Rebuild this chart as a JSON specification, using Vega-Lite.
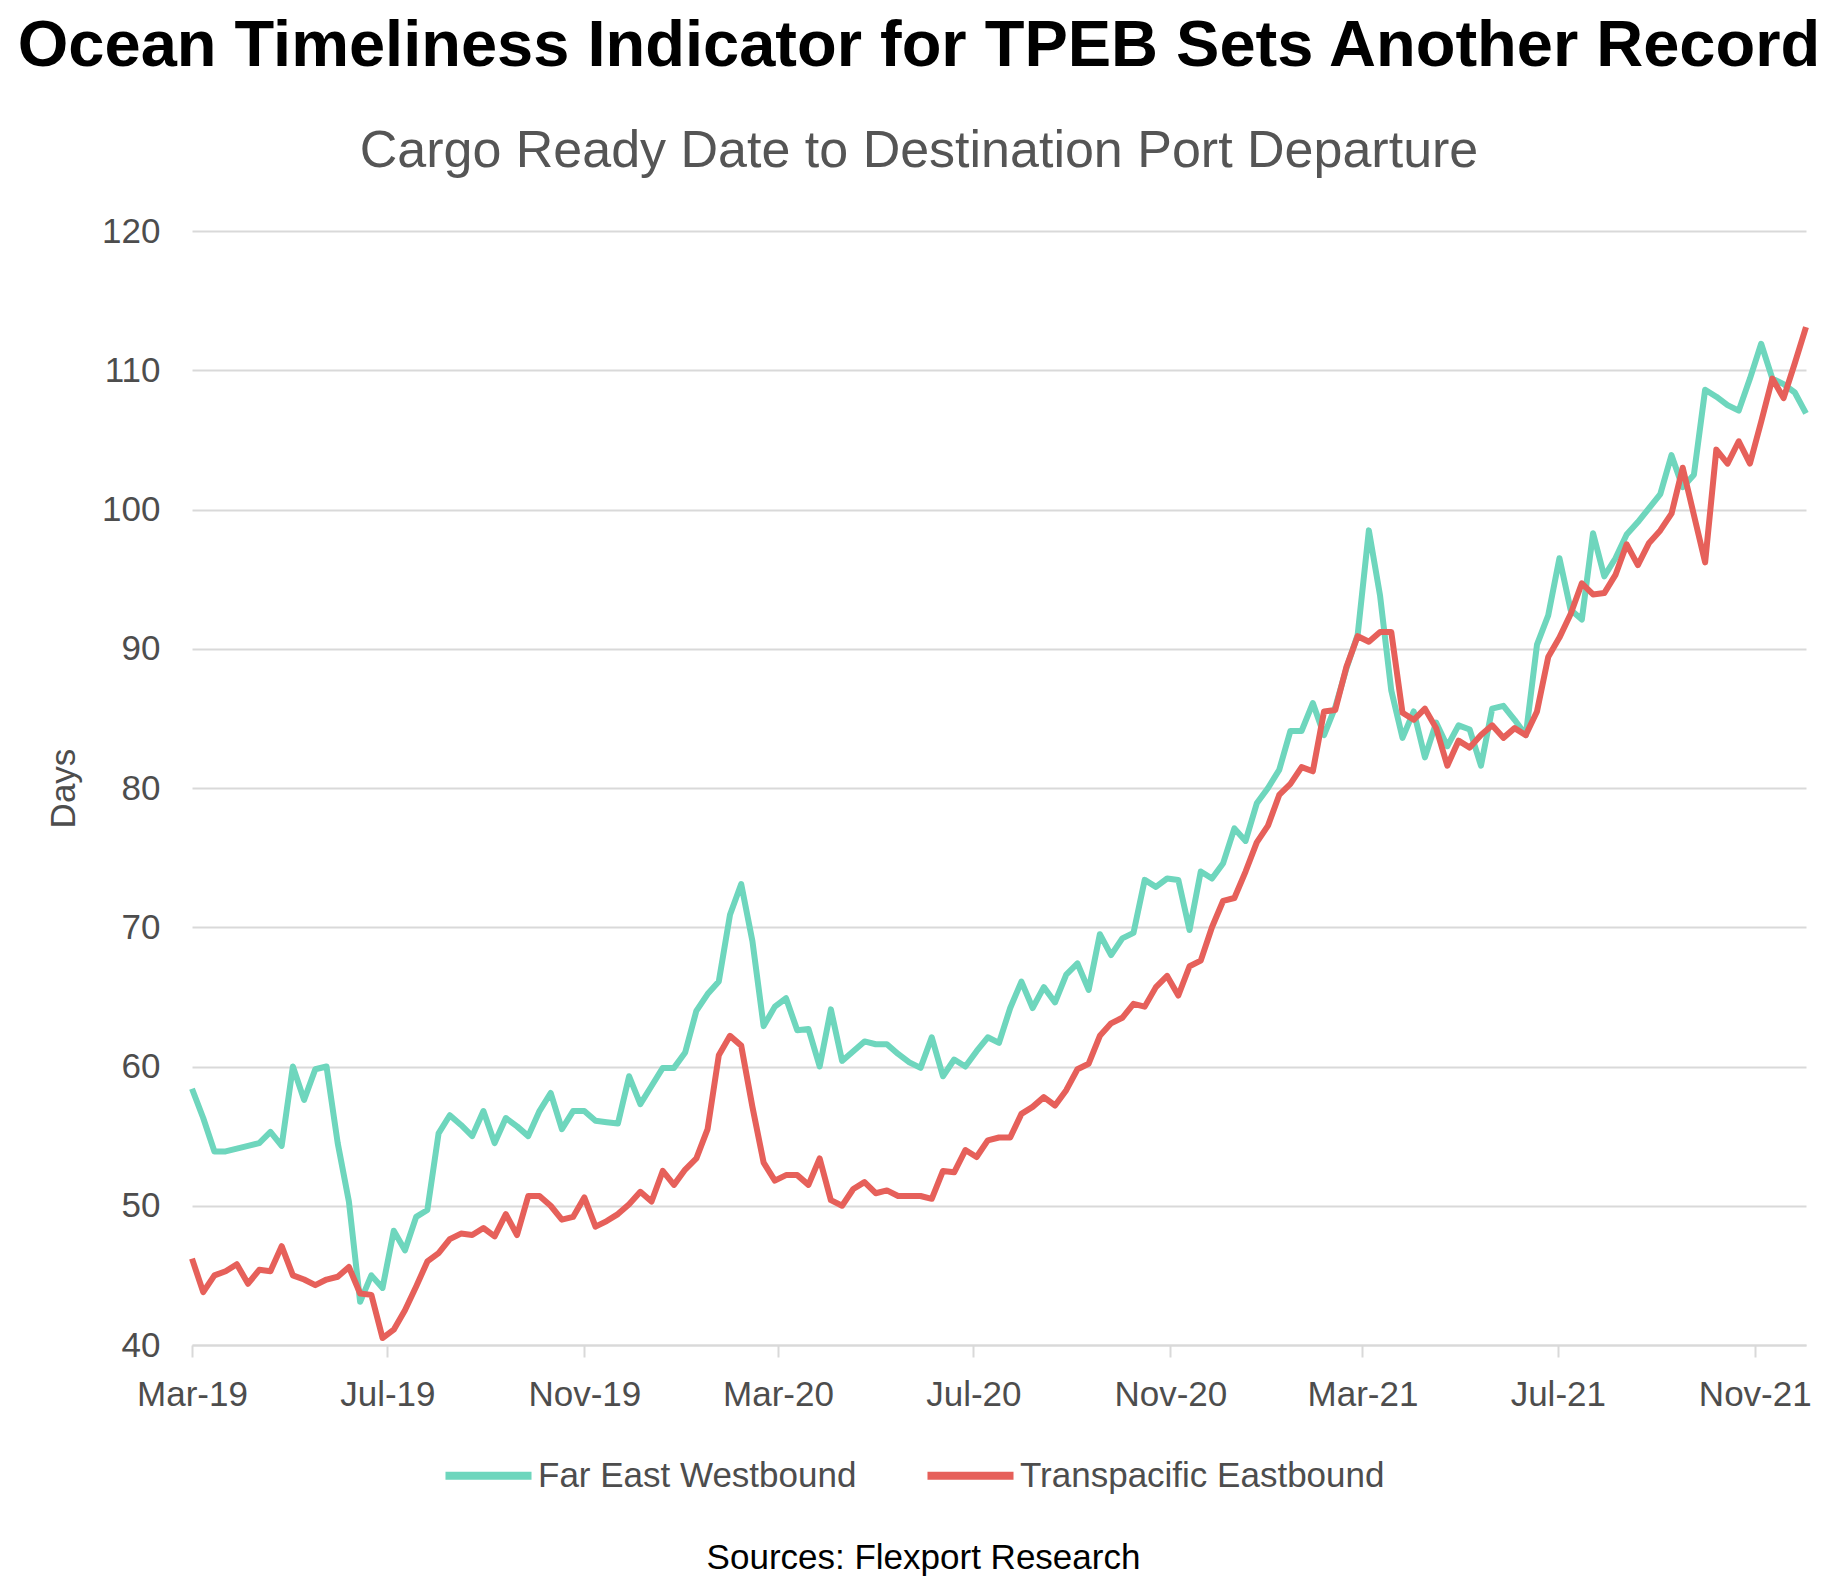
{
  "$schema": "https://vega.github.io/schema/vega-lite/v6.json",
  "width": 1614,
  "height": 1114,
  "autosize": {"type": "none"},
  "padding": {"left": 192, "top": 231, "right": 39, "bottom": 243},
  "background": "white",
  "config": {"font": "Liberation Sans", "view": {"stroke": null}},
  "title": {
    "text": "Ocean Timeliness Indicator for TPEB Sets Another Record",
    "subtitle": "Cargo Ready Date to Destination Port Departure",
    "anchor": "middle",
    "dx": -80,
    "fontSize": 65,
    "fontWeight": "bold",
    "color": "#000000",
    "subtitleFontSize": 52,
    "subtitleColor": "#555555",
    "subtitlePadding": 46,
    "offset": 36
  },
  "data": {
    "values": [
      {"date": "2019-03-01", "Far East Westbound": 58.4, "Transpacific Eastbound": 46.2},
      {"date": "2019-03-08", "Far East Westbound": 56.3, "Transpacific Eastbound": 43.8},
      {"date": "2019-03-15", "Far East Westbound": 53.9, "Transpacific Eastbound": 45.0},
      {"date": "2019-03-22", "Far East Westbound": 53.9, "Transpacific Eastbound": 45.3},
      {"date": "2019-03-29", "Far East Westbound": 54.1, "Transpacific Eastbound": 45.8},
      {"date": "2019-04-05", "Far East Westbound": 54.3, "Transpacific Eastbound": 44.4},
      {"date": "2019-04-12", "Far East Westbound": 54.5, "Transpacific Eastbound": 45.4},
      {"date": "2019-04-19", "Far East Westbound": 55.3, "Transpacific Eastbound": 45.3},
      {"date": "2019-04-26", "Far East Westbound": 54.3, "Transpacific Eastbound": 47.1},
      {"date": "2019-05-03", "Far East Westbound": 60.0, "Transpacific Eastbound": 45.0},
      {"date": "2019-05-10", "Far East Westbound": 57.6, "Transpacific Eastbound": 44.7},
      {"date": "2019-05-17", "Far East Westbound": 59.8, "Transpacific Eastbound": 44.3},
      {"date": "2019-05-24", "Far East Westbound": 60.0, "Transpacific Eastbound": 44.7},
      {"date": "2019-05-31", "Far East Westbound": 54.5, "Transpacific Eastbound": 44.9},
      {"date": "2019-06-07", "Far East Westbound": 50.3, "Transpacific Eastbound": 45.6},
      {"date": "2019-06-14", "Far East Westbound": 43.1, "Transpacific Eastbound": 43.7},
      {"date": "2019-06-21", "Far East Westbound": 45.0, "Transpacific Eastbound": 43.6},
      {"date": "2019-06-28", "Far East Westbound": 44.1, "Transpacific Eastbound": 40.5},
      {"date": "2019-07-05", "Far East Westbound": 48.2, "Transpacific Eastbound": 41.1},
      {"date": "2019-07-12", "Far East Westbound": 46.8, "Transpacific Eastbound": 42.5},
      {"date": "2019-07-19", "Far East Westbound": 49.2, "Transpacific Eastbound": 44.2},
      {"date": "2019-07-26", "Far East Westbound": 49.7, "Transpacific Eastbound": 46.0},
      {"date": "2019-08-02", "Far East Westbound": 55.2, "Transpacific Eastbound": 46.6},
      {"date": "2019-08-09", "Far East Westbound": 56.5, "Transpacific Eastbound": 47.6},
      {"date": "2019-08-16", "Far East Westbound": 55.8, "Transpacific Eastbound": 48.0},
      {"date": "2019-08-23", "Far East Westbound": 55.0, "Transpacific Eastbound": 47.9},
      {"date": "2019-08-30", "Far East Westbound": 56.8, "Transpacific Eastbound": 48.4},
      {"date": "2019-09-06", "Far East Westbound": 54.5, "Transpacific Eastbound": 47.8},
      {"date": "2019-09-13", "Far East Westbound": 56.3, "Transpacific Eastbound": 49.4},
      {"date": "2019-09-20", "Far East Westbound": 55.7, "Transpacific Eastbound": 47.9},
      {"date": "2019-09-27", "Far East Westbound": 55.0, "Transpacific Eastbound": 50.7},
      {"date": "2019-10-04", "Far East Westbound": 56.8, "Transpacific Eastbound": 50.7},
      {"date": "2019-10-11", "Far East Westbound": 58.1, "Transpacific Eastbound": 50.0},
      {"date": "2019-10-18", "Far East Westbound": 55.5, "Transpacific Eastbound": 49.0},
      {"date": "2019-10-25", "Far East Westbound": 56.8, "Transpacific Eastbound": 49.2},
      {"date": "2019-11-01", "Far East Westbound": 56.8, "Transpacific Eastbound": 50.6},
      {"date": "2019-11-08", "Far East Westbound": 56.1, "Transpacific Eastbound": 48.5},
      {"date": "2019-11-15", "Far East Westbound": 56.0, "Transpacific Eastbound": 48.9},
      {"date": "2019-11-22", "Far East Westbound": 55.9, "Transpacific Eastbound": 49.4},
      {"date": "2019-11-29", "Far East Westbound": 59.3, "Transpacific Eastbound": 50.1},
      {"date": "2019-12-06", "Far East Westbound": 57.3, "Transpacific Eastbound": 51.0},
      {"date": "2019-12-13", "Far East Westbound": 58.6, "Transpacific Eastbound": 50.3},
      {"date": "2019-12-20", "Far East Westbound": 59.9, "Transpacific Eastbound": 52.5},
      {"date": "2019-12-27", "Far East Westbound": 59.9, "Transpacific Eastbound": 51.5},
      {"date": "2020-01-03", "Far East Westbound": 61.0, "Transpacific Eastbound": 52.6},
      {"date": "2020-01-10", "Far East Westbound": 64.0, "Transpacific Eastbound": 53.4},
      {"date": "2020-01-17", "Far East Westbound": 65.2, "Transpacific Eastbound": 55.5},
      {"date": "2020-01-24", "Far East Westbound": 66.1, "Transpacific Eastbound": 60.8},
      {"date": "2020-01-31", "Far East Westbound": 70.9, "Transpacific Eastbound": 62.2},
      {"date": "2020-02-07", "Far East Westbound": 73.1, "Transpacific Eastbound": 61.5},
      {"date": "2020-02-14", "Far East Westbound": 69.0, "Transpacific Eastbound": 57.1},
      {"date": "2020-02-21", "Far East Westbound": 62.9, "Transpacific Eastbound": 53.1},
      {"date": "2020-02-28", "Far East Westbound": 64.3, "Transpacific Eastbound": 51.8},
      {"date": "2020-03-06", "Far East Westbound": 64.9, "Transpacific Eastbound": 52.2},
      {"date": "2020-03-13", "Far East Westbound": 62.6, "Transpacific Eastbound": 52.2},
      {"date": "2020-03-20", "Far East Westbound": 62.7, "Transpacific Eastbound": 51.5},
      {"date": "2020-03-27", "Far East Westbound": 60.0, "Transpacific Eastbound": 53.4},
      {"date": "2020-04-03", "Far East Westbound": 64.1, "Transpacific Eastbound": 50.4},
      {"date": "2020-04-10", "Far East Westbound": 60.4, "Transpacific Eastbound": 50.0},
      {"date": "2020-04-17", "Far East Westbound": 61.1, "Transpacific Eastbound": 51.2},
      {"date": "2020-04-24", "Far East Westbound": 61.8, "Transpacific Eastbound": 51.7},
      {"date": "2020-05-01", "Far East Westbound": 61.6, "Transpacific Eastbound": 50.9},
      {"date": "2020-05-08", "Far East Westbound": 61.6, "Transpacific Eastbound": 51.1},
      {"date": "2020-05-15", "Far East Westbound": 60.9, "Transpacific Eastbound": 50.7},
      {"date": "2020-05-22", "Far East Westbound": 60.3, "Transpacific Eastbound": 50.7},
      {"date": "2020-05-29", "Far East Westbound": 59.9, "Transpacific Eastbound": 50.7},
      {"date": "2020-06-05", "Far East Westbound": 62.1, "Transpacific Eastbound": 50.5},
      {"date": "2020-06-12", "Far East Westbound": 59.3, "Transpacific Eastbound": 52.5},
      {"date": "2020-06-19", "Far East Westbound": 60.5, "Transpacific Eastbound": 52.4},
      {"date": "2020-06-26", "Far East Westbound": 60.0, "Transpacific Eastbound": 54.0},
      {"date": "2020-07-03", "Far East Westbound": 61.1, "Transpacific Eastbound": 53.5},
      {"date": "2020-07-10", "Far East Westbound": 62.1, "Transpacific Eastbound": 54.7},
      {"date": "2020-07-17", "Far East Westbound": 61.7, "Transpacific Eastbound": 54.9},
      {"date": "2020-07-24", "Far East Westbound": 64.2, "Transpacific Eastbound": 54.9},
      {"date": "2020-07-31", "Far East Westbound": 66.1, "Transpacific Eastbound": 56.6},
      {"date": "2020-08-07", "Far East Westbound": 64.2, "Transpacific Eastbound": 57.1},
      {"date": "2020-08-14", "Far East Westbound": 65.7, "Transpacific Eastbound": 57.8},
      {"date": "2020-08-21", "Far East Westbound": 64.6, "Transpacific Eastbound": 57.2},
      {"date": "2020-08-28", "Far East Westbound": 66.6, "Transpacific Eastbound": 58.3},
      {"date": "2020-09-04", "Far East Westbound": 67.4, "Transpacific Eastbound": 59.8},
      {"date": "2020-09-11", "Far East Westbound": 65.5, "Transpacific Eastbound": 60.2},
      {"date": "2020-09-18", "Far East Westbound": 69.5, "Transpacific Eastbound": 62.2},
      {"date": "2020-09-25", "Far East Westbound": 68.0, "Transpacific Eastbound": 63.1},
      {"date": "2020-10-02", "Far East Westbound": 69.2, "Transpacific Eastbound": 63.5},
      {"date": "2020-10-09", "Far East Westbound": 69.6, "Transpacific Eastbound": 64.5},
      {"date": "2020-10-16", "Far East Westbound": 73.4, "Transpacific Eastbound": 64.3},
      {"date": "2020-10-23", "Far East Westbound": 72.9, "Transpacific Eastbound": 65.7},
      {"date": "2020-10-30", "Far East Westbound": 73.5, "Transpacific Eastbound": 66.5},
      {"date": "2020-11-06", "Far East Westbound": 73.4, "Transpacific Eastbound": 65.1},
      {"date": "2020-11-13", "Far East Westbound": 69.8, "Transpacific Eastbound": 67.2},
      {"date": "2020-11-20", "Far East Westbound": 74.0, "Transpacific Eastbound": 67.6},
      {"date": "2020-11-27", "Far East Westbound": 73.5, "Transpacific Eastbound": 70.0},
      {"date": "2020-12-04", "Far East Westbound": 74.6, "Transpacific Eastbound": 71.9},
      {"date": "2020-12-11", "Far East Westbound": 77.1, "Transpacific Eastbound": 72.1},
      {"date": "2020-12-18", "Far East Westbound": 76.2, "Transpacific Eastbound": 74.0},
      {"date": "2020-12-25", "Far East Westbound": 78.9, "Transpacific Eastbound": 76.1},
      {"date": "2021-01-01", "Far East Westbound": 80.0, "Transpacific Eastbound": 77.3},
      {"date": "2021-01-08", "Far East Westbound": 81.3, "Transpacific Eastbound": 79.5},
      {"date": "2021-01-15", "Far East Westbound": 84.1, "Transpacific Eastbound": 80.3},
      {"date": "2021-01-22", "Far East Westbound": 84.1, "Transpacific Eastbound": 81.5},
      {"date": "2021-01-29", "Far East Westbound": 86.1, "Transpacific Eastbound": 81.2},
      {"date": "2021-02-05", "Far East Westbound": 83.8, "Transpacific Eastbound": 85.5},
      {"date": "2021-02-12", "Far East Westbound": 85.8, "Transpacific Eastbound": 85.6},
      {"date": "2021-02-19", "Far East Westbound": 88.6, "Transpacific Eastbound": 88.7},
      {"date": "2021-02-26", "Far East Westbound": 91.0, "Transpacific Eastbound": 90.9},
      {"date": "2021-03-05", "Far East Westbound": 98.5, "Transpacific Eastbound": 90.5},
      {"date": "2021-03-12", "Far East Westbound": 93.8, "Transpacific Eastbound": 91.2},
      {"date": "2021-03-19", "Far East Westbound": 87.0, "Transpacific Eastbound": 91.2},
      {"date": "2021-03-26", "Far East Westbound": 83.6, "Transpacific Eastbound": 85.4},
      {"date": "2021-04-02", "Far East Westbound": 85.5, "Transpacific Eastbound": 84.9},
      {"date": "2021-04-09", "Far East Westbound": 82.2, "Transpacific Eastbound": 85.7},
      {"date": "2021-04-16", "Far East Westbound": 84.7, "Transpacific Eastbound": 84.3},
      {"date": "2021-04-23", "Far East Westbound": 83.0, "Transpacific Eastbound": 81.6},
      {"date": "2021-04-30", "Far East Westbound": 84.5, "Transpacific Eastbound": 83.4},
      {"date": "2021-05-07", "Far East Westbound": 84.2, "Transpacific Eastbound": 82.9},
      {"date": "2021-05-14", "Far East Westbound": 81.6, "Transpacific Eastbound": 83.8},
      {"date": "2021-05-21", "Far East Westbound": 85.7, "Transpacific Eastbound": 84.5},
      {"date": "2021-05-28", "Far East Westbound": 85.9, "Transpacific Eastbound": 83.6},
      {"date": "2021-06-04", "Far East Westbound": 84.9, "Transpacific Eastbound": 84.3},
      {"date": "2021-06-11", "Far East Westbound": 83.8, "Transpacific Eastbound": 83.8},
      {"date": "2021-06-18", "Far East Westbound": 90.3, "Transpacific Eastbound": 85.5},
      {"date": "2021-06-25", "Far East Westbound": 92.4, "Transpacific Eastbound": 89.4},
      {"date": "2021-07-02", "Far East Westbound": 96.5, "Transpacific Eastbound": 90.8},
      {"date": "2021-07-09", "Far East Westbound": 92.8, "Transpacific Eastbound": 92.5},
      {"date": "2021-07-16", "Far East Westbound": 92.1, "Transpacific Eastbound": 94.7},
      {"date": "2021-07-23", "Far East Westbound": 98.3, "Transpacific Eastbound": 93.9},
      {"date": "2021-07-30", "Far East Westbound": 95.2, "Transpacific Eastbound": 94.0},
      {"date": "2021-08-06", "Far East Westbound": 96.5, "Transpacific Eastbound": 95.3},
      {"date": "2021-08-13", "Far East Westbound": 98.2, "Transpacific Eastbound": 97.5},
      {"date": "2021-08-20", "Far East Westbound": 99.1, "Transpacific Eastbound": 96.0},
      {"date": "2021-08-27", "Far East Westbound": 100.1, "Transpacific Eastbound": 97.6},
      {"date": "2021-09-03", "Far East Westbound": 101.1, "Transpacific Eastbound": 98.5},
      {"date": "2021-09-10", "Far East Westbound": 103.9, "Transpacific Eastbound": 99.7},
      {"date": "2021-09-17", "Far East Westbound": 101.6, "Transpacific Eastbound": 103.0},
      {"date": "2021-09-24", "Far East Westbound": 102.5, "Transpacific Eastbound": 99.6},
      {"date": "2021-10-01", "Far East Westbound": 108.6, "Transpacific Eastbound": 96.2},
      {"date": "2021-10-08", "Far East Westbound": 108.1, "Transpacific Eastbound": 104.3},
      {"date": "2021-10-15", "Far East Westbound": 107.5, "Transpacific Eastbound": 103.3},
      {"date": "2021-10-22", "Far East Westbound": 107.1, "Transpacific Eastbound": 104.9},
      {"date": "2021-10-29", "Far East Westbound": 109.4, "Transpacific Eastbound": 103.3},
      {"date": "2021-11-05", "Far East Westbound": 111.9, "Transpacific Eastbound": 106.3},
      {"date": "2021-11-12", "Far East Westbound": 109.4, "Transpacific Eastbound": 109.4},
      {"date": "2021-11-19", "Far East Westbound": 109.0, "Transpacific Eastbound": 108.0},
      {"date": "2021-11-26", "Far East Westbound": 108.4, "Transpacific Eastbound": 110.5},
      {"date": "2021-12-03", "Far East Westbound": 106.9, "Transpacific Eastbound": 113.1}
    ]
  },
  "transform": [
    {"fold": ["Far East Westbound", "Transpacific Eastbound"], "as": ["series", "days"]}
  ],
  "mark": {"type": "line", "strokeWidth": 6, "strokeJoin": "round"},
  "encoding": {
    "x": {
      "field": "date",
      "type": "temporal",
      "scale": {
        "type": "utc",
        "nice": false,
        "domain": [
          {"year": 2019, "month": 3, "date": 1, "utc": true},
          {"year": 2021, "month": 12, "date": 3, "utc": true}
        ]
      },
      "axis": {
        "title": "Sources: Flexport Research",
        "titleFontSize": 35,
        "titleFontWeight": "normal",
        "titleColor": "#000000",
        "titleX": 731,
        "titleY": 223,
        "titleAnchor": "middle",
        "titleAlign": "center",
        "titleBaseline": "alphabetic",
        "values": [
          {"year": 2019, "month": 3, "date": 1, "utc": true},
          {"year": 2019, "month": 7, "date": 1, "utc": true},
          {"year": 2019, "month": 11, "date": 1, "utc": true},
          {"year": 2020, "month": 3, "date": 1, "utc": true},
          {"year": 2020, "month": 7, "date": 1, "utc": true},
          {"year": 2020, "month": 11, "date": 1, "utc": true},
          {"year": 2021, "month": 3, "date": 1, "utc": true},
          {"year": 2021, "month": 7, "date": 1, "utc": true},
          {"year": 2021, "month": 11, "date": 1, "utc": true}
        ],
        "labelExpr": "utcFormat(datum.value, '%b-%y')",
        "labelFontSize": 35,
        "labelColor": "#4d4d4d",
        "labelPadding": 20,
        "labelFlush": false,
        "labelOverlap": false,
        "grid": false,
        "domainColor": "#d9d9d9",
        "domainWidth": 2,
        "tickColor": "#d9d9d9",
        "tickWidth": 2,
        "tickSize": 12
      }
    },
    "y": {
      "field": "days",
      "type": "quantitative",
      "scale": {"domain": [40, 120], "nice": false, "zero": false},
      "axis": {
        "title": "Days",
        "titleFontSize": 35,
        "titleFontWeight": "normal",
        "titleColor": "#4d4d4d",
        "titlePadding": 20,
        "values": [40, 50, 60, 70, 80, 90, 100, 110, 120],
        "labelFontSize": 35,
        "labelColor": "#4d4d4d",
        "labelPadding": 32,
        "domain": false,
        "ticks": false,
        "gridColor": "#d9d9d9",
        "gridWidth": 2
      }
    },
    "color": {
      "field": "series",
      "type": "nominal",
      "scale": {
        "domain": ["Far East Westbound", "Transpacific Eastbound"],
        "range": ["#6ed6bd", "#e6605a"]
      },
      "legend": {
        "title": null,
        "orient": "none",
        "legendX": 249,
        "legendY": 1197,
        "direction": "horizontal",
        "symbolType": "stroke",
        "symbolSize": 7400,
        "symbolStrokeWidth": 8,
        "labelFontSize": 35,
        "labelColor": "#4d4d4d",
        "labelLimit": 0,
        "labelOffset": 2,
        "columnPadding": 54
      }
    }
  }
}
